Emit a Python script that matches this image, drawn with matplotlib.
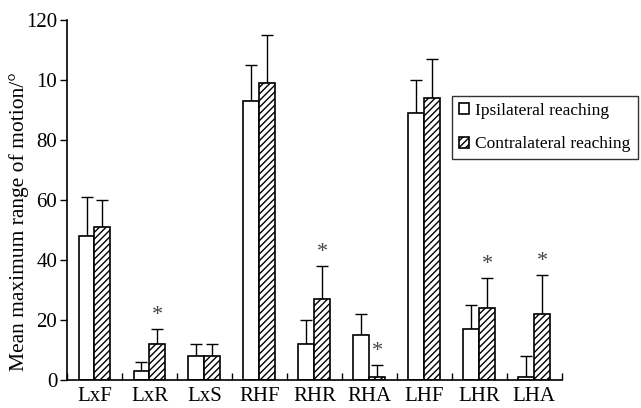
import matplotlib
matplotlib.use('Agg')
import matplotlib.pyplot as plt
import numpy as np

plt.rcParams['font.family'] = ['Liberation Serif', 'DejaVu Serif']
plt.rcParams['hatch.linewidth'] = 1.0

categories = ['LxF', 'LxR', 'LxS', 'RHF', 'RHR', 'RHA', 'LHF', 'LHR', 'LHA']
ipsi = [48, 3, 8, 93, 12, 15, 89, 17, 1]
ipsi_err = [13, 3, 4, 12, 8, 7, 11, 8, 7]
contra = [51, 12, 8, 99, 27, 1, 94, 24, 22]
contra_err = [9, 5, 4, 16, 11, 4, 13, 10, 13]
significant = [False, True, False, False, True, True, False, True, True]
ytick_vals = [0, 20, 40, 60, 80, 100, 120]
ytick_labels = ['0', '20', '40', '60', '80', '10', '120']

fig = plt.figure(figsize=(6.41, 4.08), dpi=100)
ax = fig.add_axes([0.1045, 0.0686, 0.772, 0.882])

x = np.arange(len(categories)) + 0.5
w = 0.29

ax.bar(x - w/2, ipsi, w, color='white', edgecolor='black', linewidth=1.2,
       label='Ipsilateral reaching', zorder=2)
ax.bar(x + w/2, contra, w, color='white', edgecolor='black', linewidth=1.2,
       hatch='/////', label='Contralateral reaching', zorder=2)

# one-sided error bars (upward only)
ax.errorbar(x - w/2, ipsi, yerr=[np.zeros(len(ipsi)), ipsi_err], fmt='none',
            ecolor='black', elinewidth=1.0, capsize=4, capthick=1.0, zorder=1)
ax.errorbar(x + w/2, contra, yerr=[np.zeros(len(contra)), contra_err], fmt='none',
            ecolor='black', elinewidth=1.0, capsize=4, capthick=1.0, zorder=1)

for xi, c, e, s in zip(x, contra, contra_err, significant):
    if s:
        ax.text(xi + w/2, c + e + 4.5, '*', ha='center', va='center',
                fontsize=16, color='#444444')

ax.set_xlim(0, len(categories))
ax.set_ylim(0, 120)
ax.set_xticks(np.arange(len(categories) + 1))
ax.set_xticklabels([])
ax.set_xticks(x, minor=True)
ax.set_xticklabels(categories, minor=True, fontsize=15)
ax.tick_params(axis='x', which='major', direction='in', length=5, width=1)
ax.tick_params(axis='x', which='minor', length=0, pad=5)
ax.set_yticks(ytick_vals)
ax.set_yticklabels(ytick_labels, fontsize=15)
ax.tick_params(axis='y', direction='out', length=5, width=1, pad=2)

ax.spines['top'].set_visible(False)
ax.spines['right'].set_visible(False)
ax.spines['left'].set_linewidth(1.2)
ax.spines['bottom'].set_linewidth(1.2)

ax.set_ylabel('Mean maximum range of motion/°', fontsize=15.5)
ax.yaxis.set_label_coords(-0.077, 0.44)

leg = ax.legend(loc='upper left', bbox_to_anchor=(452/641, 1 - 96/408),
                bbox_transform=fig.transFigure, fontsize=12.5, frameon=True,
                fancybox=False, edgecolor='black', handlelength=0.6,
                handleheight=0.6, handletextpad=0.35, labelspacing=1.0,
                borderpad=0.4, borderaxespad=0)
leg.get_frame().set_linewidth(1.0)

fig.savefig('out.png', dpi=100)
